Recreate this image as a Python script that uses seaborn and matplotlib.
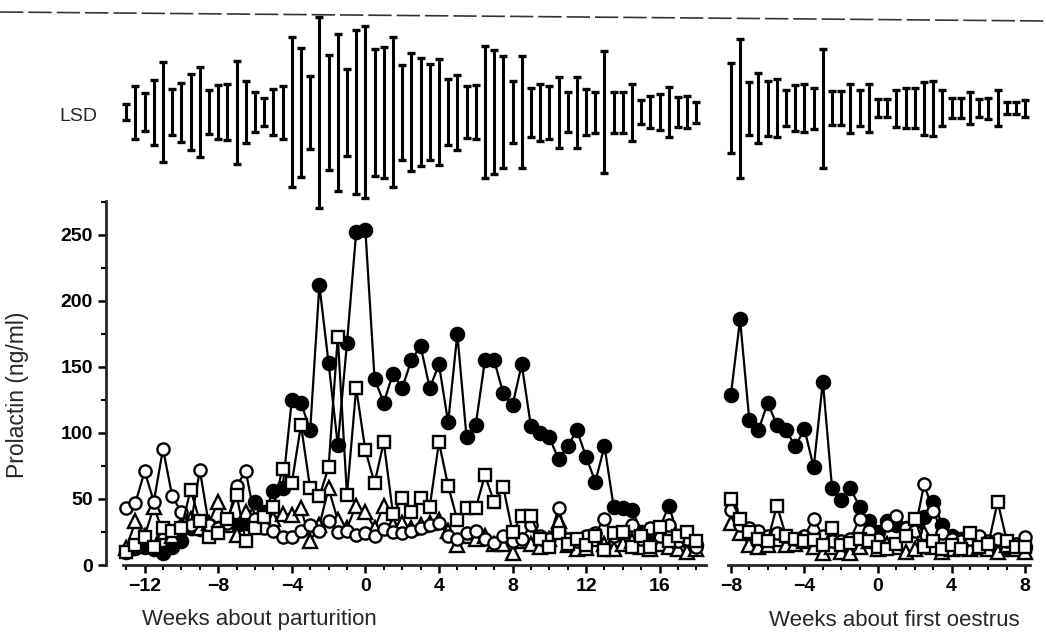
import numpy as np
import matplotlib
matplotlib.use("Agg")
import matplotlib.pyplot as plt
from matplotlib.lines import Line2D
import seaborn as sns

# ---------------- data ----------------
weeks_partus = np.arange(-13, 18.5, 0.5)   # 63 time points
weeks_oestrus = np.arange(-8, 8.5, 0.5)    # 33 time points

# prolactin (ng/ml) about parturition
filled_circ_p = [10, 13, 14, 12, 9, 14, 18, 28, 27, 30, 28, 34, 30, 32, 48, 40, 56, 58,
                 125, 123, 102, 212, 153, 91, 168, 252, 254, 141, 123, 145, 134, 155, 166,
                 134, 152, 108, 175, 97, 106, 155, 155, 130, 121, 152, 105, 100, 97, 80, 90,
                 102, 82, 63, 90, 44, 43, 42, 25, 22, 28, 45, 22, 18, 15]
open_sq_p = [10, 15, 21, 14, 28, 26, 28, 57, 33, 21, 24, 35, 53, 18, 28, 36, 44, 73,
             62, 106, 58, 52, 74, 173, 53, 134, 87, 62, 93, 39, 51, 40, 51, 44, 93, 60,
             34, 43, 43, 68, 48, 59, 25, 37, 37, 20, 14, 24, 16, 20, 15, 22, 11, 24, 25,
             14, 22, 14, 29, 18, 22, 25, 18]
open_circ_p = [43, 47, 71, 48, 88, 52, 40, 30, 72, 30, 28, 32, 60, 71, 35, 28, 26, 21,
               21, 26, 30, 26, 33, 25, 26, 23, 24, 22, 27, 25, 24, 26, 28, 30, 32, 22,
               20, 24, 26, 20, 17, 22, 18, 20, 30, 22, 20, 43, 20, 18, 22, 24, 35, 22,
               25, 30, 20, 28, 22, 30, 18, 20, 14]
open_tri_p = [13, 33, 22, 44, 25, 22, 30, 35, 28, 32, 48, 30, 23, 40, 32, 30, 35, 39,
              38, 43, 18, 30, 58, 34, 28, 45, 40, 28, 45, 30, 32, 28, 30, 32, 34, 26,
              15, 22, 20, 22, 16, 16, 9, 18, 16, 14, 20, 33, 15, 12, 13, 20, 16, 12,
              16, 18, 14, 12, 16, 14, 12, 10, 12]
lsd_p = [12, 40, 29, 49, 76, 35, 45, 58, 68, 33, 41, 42, 78, 47, 30, 21, 35, 40,
         114, 98, 55, 145, 87, 119, 66, 124, 130, 96, 99, 114, 72, 89, 82, 73, 80, 50,
         57, 39, 41, 100, 94, 85, 47, 85, 37, 43, 40, 54, 30, 54, 35, 31, 92, 31, 31,
         43, 18, 24, 27, 38, 23, 24, 16]

# prolactin (ng/ml) about first oestrus
filled_circ_o = [129, 186, 110, 102, 123, 106, 102, 90, 103, 74, 139, 58, 49, 58, 44, 33,
                 25, 33, 30, 28, 32, 36, 48, 30, 22, 20, 18, 16, 14, 18, 12, 15, 14]
open_sq_o = [50, 35, 25, 20, 18, 45, 22, 20, 18, 19, 15, 28, 15, 17, 20, 18, 14, 12, 16,
             22, 35, 14, 18, 12, 15, 12, 24, 14, 16, 48, 18, 14, 14]
open_circ_o = [42, 30, 28, 26, 22, 24, 22, 20, 22, 35, 22, 18, 18, 20, 35, 26, 20, 30, 37,
               28, 26, 61, 41, 24, 20, 18, 20, 22, 18, 20, 18, 16, 21]
open_tri_o = [32, 24, 15, 14, 15, 20, 15, 16, 18, 14, 9, 14, 10, 9, 14, 18, 12, 16, 14,
              10, 12, 24, 14, 10, 12, 14, 12, 14, 12, 10, 15, 12, 10]
lsd_o = [68, 105, 40, 53, 42, 44, 27, 35, 36, 31, 90, 26, 26, 37, 27, 36, 14, 14, 28,
         30, 30, 40, 42, 27, 15, 15, 24, 14, 16, 27, 9, 9, 13]

xticks_p = [-12, -8, -4, 0, 4, 8, 12, 16]
xticks_o = [-8, -4, 0, 4, 8]
yticks = [0, 50, 100, 150, 200, 250]

# ---------------- style ----------------
sns.set_theme(style="ticks")
plt.rcParams["font.family"] = ["Liberation Sans", "DejaVu Sans"]

W, H = 1046, 634
fig = plt.figure(figsize=(W / 100, H / 100), dpi=100)

ax1 = fig.add_axes([106 / W, 1 - 565 / H, 601.5 / W, 565 / H])
ax2 = fig.add_axes([718 / W, 1 - 565 / H, 318.3 / W, 565 / H])

YTOP = 428
series_style = [
    # (key, marker, face, size)
    ("filled", "o", "black", 9.5),
    ("tri", "^", "white", 9.5),
    ("circ", "o", "white", 8.8),
    ("sq", "s", "white", 8.4),
]


def draw(ax, weeks, data, lsd, lsd_center):
    for key, mk, fc, ms in series_style:
        sns.lineplot(x=weeks, y=data[key], ax=ax, color="black", linewidth=1.6,
                     marker=mk, markersize=ms, markerfacecolor=fc,
                     markeredgecolor="black", markeredgewidth=1.7,
                     estimator=None, sort=False, legend=False)
    ax.errorbar(weeks, np.full(len(weeks), lsd_center), yerr=np.array(lsd) / 2.0,
                fmt="none", ecolor="black", elinewidth=2.2, capsize=3.0, capthick=2.4)
    ax.set_ylim(0, YTOP)
    for s in ["top", "right"]:
        ax.spines[s].set_visible(False)
    ax.spines["bottom"].set_linewidth(2.0)
    ax.spines["left"].set_linewidth(2.0)
    ax.tick_params(axis="both", which="major", direction="out", length=5.5, width=1.8,
                   labelsize=14, pad=4, color="black", labelcolor="black")
    ax.tick_params(axis="both", which="minor", direction="out", length=3.8, width=1.5,
                   color="black")
    ax.set_xlabel("")
    ax.set_ylabel("")
    ax.set_facecolor("none")


draw(ax1, weeks_partus,
     {"filled": filled_circ_p, "sq": open_sq_p, "circ": open_circ_p, "tri": open_tri_p},
     lsd_p, 343)
draw(ax2, weeks_oestrus,
     {"filled": filled_circ_o, "sq": open_sq_o, "circ": open_circ_o, "tri": open_tri_o},
     lsd_o, 346)

# left panel axes
ax1.set_xlim(-14.1, 18.6)
ax1.set_xticks(xticks_p)
ax1.set_xticks(np.arange(-13, 19, 1), minor=True)
ax1.set_yticks(yticks)
ax1.set_yticks(np.arange(25, 276, 50), minor=True)
ax1.spines["bottom"].set_bounds(-13.2, 18.5)
ax1.spines["left"].set_bounds(0, 276)

# right panel axes
ax2.set_xlim(-8.7, 8.6)
ax2.set_xticks(xticks_o)
ax2.set_xticks(np.arange(-8, 9, 1), minor=True)
ax2.set_yticks([])
ax2.spines["left"].set_visible(False)
ax2.spines["bottom"].set_bounds(-8.15, 8.25)

for ax in (ax1, ax2):
    for lab in ax.get_xticklabels() + ax.get_yticklabels():
        lab.set_fontweight("bold")

ax1.text(-15.6, 340, "LSD", fontsize=14, ha="center", va="center", clip_on=False)

fig.text(259 / W, 1 - 620 / H, "Weeks about parturition", fontsize=16,
         ha="center", va="center")
fig.text(894 / W, 1 - 620 / H, "Weeks about first oestrus", fontsize=16,
         ha="center", va="center")
fig.text(18 / W, 1 - 395 / H, "Prolactin (ng/ml)", fontsize=16.5, rotation=90,
         ha="center", va="center")

# scanned page edge (dashed line across the top)
fig.add_artist(Line2D([0, 1], [1 - 12 / H, 1 - 21 / H], transform=fig.transFigure,
                      linestyle=(0, (14, 3)), linewidth=1.2, color="#333333"))

fig.savefig("out.png", dpi=100)
